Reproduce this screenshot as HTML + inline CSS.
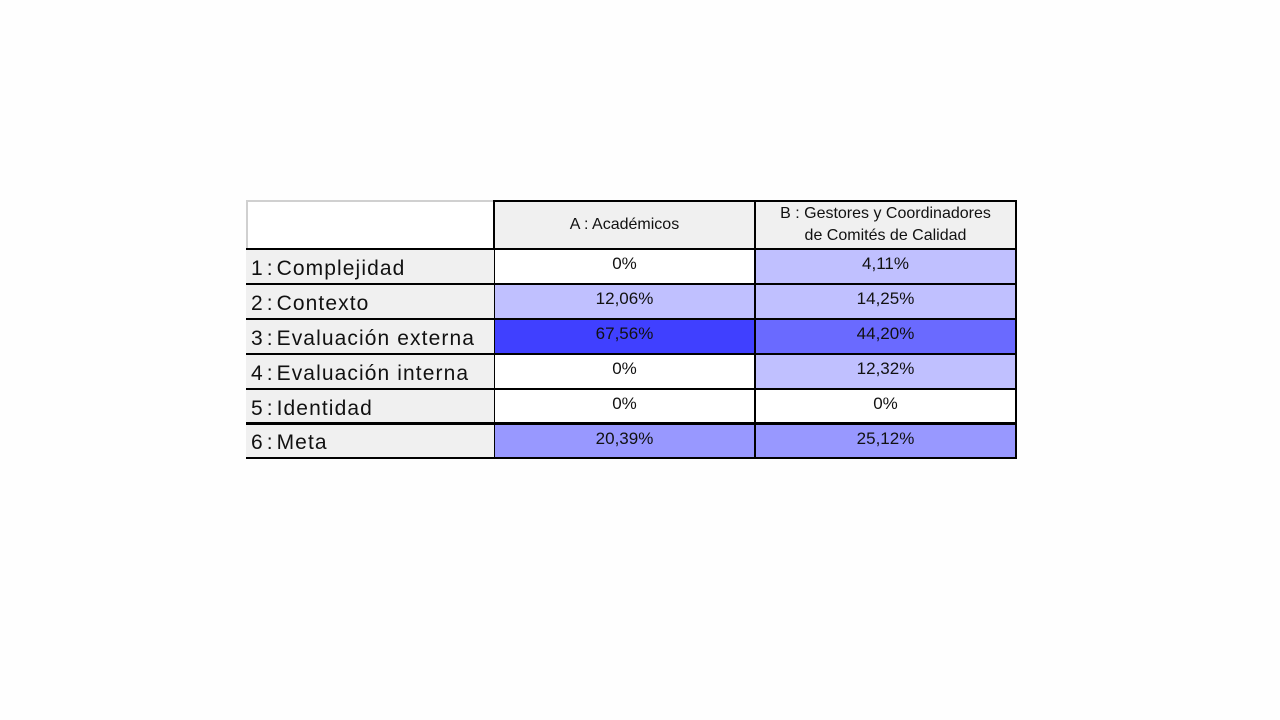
<!DOCTYPE html>
<html><head><meta charset="utf-8"><style>
body{margin:0;width:1280px;height:720px;background:#fefefe;position:relative;overflow:hidden;font-family:"Liberation Sans",sans-serif;}
.c{position:absolute;box-sizing:border-box;display:flex;justify-content:center;color:#111;}
</style></head><body>
<div id="tbl"></div>
<script>
const categories=["1 : Complejidad","2 : Contexto","3 : Evaluación externa","4 : Evaluación interna","5 : Identidad","6 : Meta"];
const groups=["A : Académicos","B : Gestores y Coordinadores<br>de Comités de Calidad"];
const valuesA=[0,12.06,67.56,0,0,20.39];
const valuesB=[4.11,14.25,44.20,12.32,0,25.12];
const series=[valuesA,valuesB];
const tbl=document.getElementById('tbl');
const X=[246,493,754,1015], top0=200, headH=48, rowH=34.9;
function color(v){if(v<=0)return'#ffffff';if(v<20)return'#c0c0ff';if(v<40)return'#9898ff';if(v<60)return'#6a6aff';return'#4040ff';}
function fmt(v){return v===0?'0%':v.toFixed(2).replace('.',',')+'%';}
function cell(x,y,w,h,html,bg,name,extra){
  const d=document.createElement('div');d.className='c';
  
  
  d.style.cssText+=`left:${x}px;top:${y}px;width:${w}px;height:${h}px;background:${bg};`+(extra||'');
  d.innerHTML=html;tbl.appendChild(d);return d;}
cell(X[0],top0,X[1]-X[0]+1,headH+1,'','#fff','corner-cell','border:2px solid #d0d0d0;border-right:none;border-bottom:none;');
groups.forEach((g,j)=>{
  cell(X[j+1],top0,X[j+2]-X[j+1]+2,headH+2,`<span>${g}</span>`,'#f0f0f0','column-header','border:2px solid #000;align-items:center;text-align:center;font-size:16px;line-height:22px;');
});
categories.forEach((cat,i)=>{
  const y=top0+headH+i*rowH;
  cell(X[0],y,X[1]-X[0]+1,rowH+2,cat.replace(' : ','<span style="word-spacing:-4px"> : </span>'),'#f0f0f0','row-label',`z-index:${20-i};justify-content:flex-start;padding:5px 0 0 5px;font-size:21px;letter-spacing:1.1px;white-space:pre;border-top:2px solid #000;border-bottom:2px solid #000;align-items:center;`);
  series.forEach((s,j)=>{
    cell(X[j+1],y,X[j+2]-X[j+1]+2,rowH+2,fmt(s[i]),color(s[i]),'value-cell','border:2px solid #000;align-items:flex-start;padding-top:4px;font-size:17px;');
  });
});
</script>
</body></html>
